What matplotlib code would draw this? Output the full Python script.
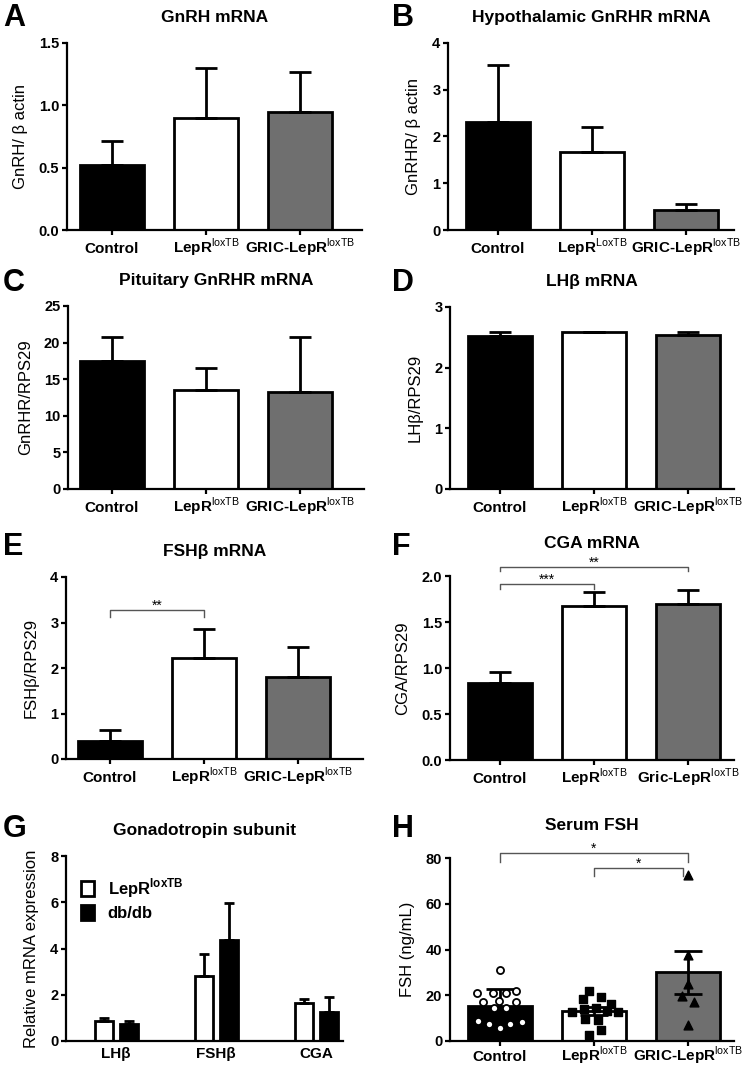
import numpy as np
import matplotlib
matplotlib.use("Agg")
import matplotlib.pyplot as plt

plt.rcParams['font.family'] = ['Liberation Sans', 'DejaVu Sans']
plt.rcParams['mathtext.fontset'] = 'custom'
plt.rcParams['mathtext.rm'] = 'Liberation Sans'
plt.rcParams['mathtext.bf'] = 'Liberation Sans:bold'

W, H = 742, 1066
GRAY = '#6f6f6f'
COLORS = ['black', 'white', GRAY]

SUP = r'$^{\mathrm{loxTB}}$'
groups_std = ['Control', 'LepR' + SUP, 'GRIC-LepR' + SUP]
groups_b = ['Control', r'LepR$^{\mathrm{LoxTB}}$', 'GRIC-LepR' + SUP]
groups_f = ['Control', 'LepR' + SUP, 'Gric-LepR' + SUP]

# panel A
gnrh_mean = [0.52, 0.90, 0.95]
gnrh_err = [0.19, 0.40, 0.32]
# panel B
hgnrhr_mean = [2.30, 1.67, 0.43]
hgnrhr_err = [1.22, 0.53, 0.13]
# panel C
pgnrhr_mean = [17.5, 13.5, 13.2]
pgnrhr_err = [3.2, 3.0, 7.5]
# panel D
lhb_mean = [2.53, 2.58, 2.54]
lhb_err = [0.05, 0.0, 0.04]
# panel E
fshb_mean = [0.40, 2.22, 1.80]
fshb_err = [0.23, 0.63, 0.67]
# panel F
cga_mean = [0.84, 1.67, 1.70]
cga_err = [0.12, 0.16, 0.15]
# panel G
subunits = ['LHβ', 'FSHβ', 'CGA']
g_lepr = [0.85, 2.80, 1.65]
g_lepr_err = [0.15, 0.95, 0.17]
g_dbdb = [0.75, 4.35, 1.25]
g_dbdb_err = [0.10, 1.60, 0.65]
# panel H
fsh_ctrl = [31.0, 21.0, 21.0, 20.9, 21.9, 17.1, 17.4, 17.1, 14.5, 14.5, 8.8, 8.3, 7.3, 7.3, 5.5]
fsh_ctrl_dx = [0.0, -0.24, -0.07, 0.06, 0.17, -0.18, -0.01, 0.17, -0.06, 0.06, -0.23, 0.23, -0.12, 0.11, 0.0]
fsh_lepr = [22.0, 19.4, 18.2, 12.8, 14.0, 14.6, 16.0, 12.8, 9.6, 9.2, 4.8, 2.6, 13.0]
fsh_lepr_dx = [-0.05, 0.07, -0.12, -0.23, -0.11, 0.02, 0.18, 0.25, -0.10, 0.04, 0.07, -0.05, 0.14]
fsh_gric = [72.4, 37.7, 25.1, 19.7, 17.0, 7.0]
fsh_gric_dx = [0.0, 0.0, 0.0, -0.06, 0.06, 0.0]
fsh_mean = [15.5, 13.1, 30.0]
fsh_sem = [7.2, 1.8, 9.5]

fig = plt.figure(figsize=(W / 100, H / 100), dpi=100)


def make_ax(l, r, t, b):
    ax = fig.add_axes([l / W, 1 - b / H, (r - l) / W, (b - t) / H])
    for s in ['top', 'right']:
        ax.spines[s].set_visible(False)
    for s in ['left', 'bottom']:
        ax.spines[s].set_linewidth(1.6)
    ax.tick_params(axis='y', width=1.6, length=3.5, pad=2)
    ax.tick_params(axis='x', width=1.6, length=3.5, pad=13)
    return ax


def fix_xlabels(ax, labels, size=11):
    ax.set_xticklabels(labels, fontsize=size, fontweight='bold')
    for lab in ax.get_xticklabels():
        lab.set_verticalalignment('baseline')


def bar_panel(ax, means, errs, labels, l, r, gap, ylim, yticks, yfmt,
              ylabel, title, letter, letter_x, letter_y, both=False, cap=8, tpad=15):
    spacing = 94.0
    x = np.arange(3)
    ax.set_xlim(-gap / spacing, (r - l - gap) / spacing)
    ax.set_ylim(*ylim)
    ax.bar(x, means, width=0.68, color=COLORS, edgecolor='black', linewidth=2, zorder=2)
    lower = errs if both else [0] * 3
    ax.errorbar(x, means, yerr=[lower, errs], fmt='none', ecolor='black',
                elinewidth=2, capsize=cap, capthick=2, zorder=3, clip_on=False)
    ax.set_xticks(x)
    fix_xlabels(ax, labels)
    ax.set_yticks(yticks)
    ax.set_yticklabels([yfmt.format(v) for v in yticks], fontsize=10.5, fontweight='bold')
    ax.set_ylabel(ylabel, fontsize=12, labelpad=8)
    ax.set_title(title, fontsize=12.5, fontweight='bold', pad=tpad)
    fig.text(letter_x / W, 1 - letter_y / H, letter, fontsize=22, fontweight='bold',
             va='top', ha='left')


def bracket(ax, x1, x2, y, drop, text):
    ax.plot([x1, x1, x2, x2], [y - drop, y, y, y - drop], color='#555555', lw=1,
            clip_on=False, zorder=4)
    ax.text((x1 + x2) / 2, y, text, ha='center', va='baseline', fontsize=10, clip_on=False)


# A
ax = make_ax(67, 362, 43, 230)
bar_panel(ax, gnrh_mean, gnrh_err, groups_std, 67, 362, 45, (0, 1.5), [0, 0.5, 1.0, 1.5],
          '{:.1f}', 'GnRH/ β actin', 'GnRH mRNA', 'A', 3, 3)
# B
ax = make_ax(448, 734, 43, 230)
bar_panel(ax, hgnrhr_mean, hgnrhr_err, groups_b, 448, 734, 50, (0, 4), [0, 1, 2, 3, 4],
          '{:.0f}', 'GnRHR/ β actin', 'Hypothalamic GnRHR mRNA', 'B', 392, 3)
# C
ax = make_ax(68, 364, 306, 489)
bar_panel(ax, pgnrhr_mean, pgnrhr_err, groups_std, 68, 364, 44, (0, 25), [0, 5, 10, 15, 20, 25],
          '{:.0f}', 'GnRHR/RPS29', 'Pituitary GnRHR mRNA', 'C', 3, 268)
# D
ax = make_ax(450, 734, 307, 489)
bar_panel(ax, lhb_mean, lhb_err, groups_std, 450, 734, 50, (0, 3), [0, 1, 2, 3],
          '{:.0f}', 'LHβ/RPS29', 'LHβ mRNA', 'D', 392, 268)
# E
ax = make_ax(66, 363, 577, 759)
bar_panel(ax, fshb_mean, fshb_err, groups_std, 66, 363, 44, (0, 4), [0, 1, 2, 3, 4],
          '{:.0f}', 'FSHβ/RPS29', 'FSHβ mRNA', 'E', 3, 532)
bracket(ax, 0, 1, 3.27, 0.15, '**')
# F
ax = make_ax(450, 734, 576, 760)
bar_panel(ax, cga_mean, cga_err, groups_f, 450, 734, 50, (0, 2.0), [0, 0.5, 1.0, 1.5, 2.0],
          '{:.1f}', 'CGA/RPS29', 'CGA mRNA', 'F', 392, 532, tpad=20)
bracket(ax, 0, 1, 1.91, 0.05, '***')
bracket(ax, 0, 2, 2.10, 0.05, '**')

# G
ax = make_ax(66, 343, 856, 1041)
xg = np.arange(3)
ax.set_xlim(-0.5, 2.27)
ax.set_ylim(0, 8)
ax.bar(xg - 0.125, g_lepr, width=0.18, color='white', edgecolor='black', linewidth=2,
       label='LepR' + r'$^{\mathbf{loxTB}}$', zorder=2)
ax.bar(xg + 0.125, g_dbdb, width=0.18, color='black', edgecolor='black', linewidth=2,
       label='db/db', zorder=2)
ax.errorbar(xg - 0.125, g_lepr, yerr=[[0] * 3, g_lepr_err], fmt='none', ecolor='black',
            elinewidth=2, capsize=3.5, capthick=2, zorder=3)
ax.errorbar(xg + 0.125, g_dbdb, yerr=[[0] * 3, g_dbdb_err], fmt='none', ecolor='black',
            elinewidth=2, capsize=3.5, capthick=2, zorder=3)
ax.set_xticks(xg)
fix_xlabels(ax, subunits)
ax.tick_params(axis='x', length=0, pad=12)
ax.set_yticks([0, 2, 4, 6, 8])
ax.set_yticklabels(['0', '2', '4', '6', '8'], fontsize=10.5, fontweight='bold')
ax.set_ylabel('Relative mRNA expression', fontsize=12, labelpad=8)
ax.set_title('Gonadotropin subunit', fontsize=12.5, fontweight='bold', pad=15)
leg = ax.legend(loc='upper left', bbox_to_anchor=(0.0, 0.97), frameon=False,
                prop={'weight': 'bold', 'size': 12}, handlelength=0.8, handleheight=1.0,
                handletextpad=0.8, labelspacing=0.3)
fig.text(3 / W, 1 - 814 / H, 'G', fontsize=22, fontweight='bold', va='top', ha='left')

# H
ax = make_ax(450, 734, 858, 1041)
bar_panel(ax, fsh_mean, fsh_sem, groups_std, 450, 734, 50, (0, 80), [0, 20, 40, 60, 80],
          '{:.0f}', 'FSH (ng/mL)', 'Serum FSH', 'H', 392, 814, both=True, cap=10, tpad=20)
ax.tick_params(axis='x', pad=11)
ax.scatter(np.array(fsh_ctrl_dx), fsh_ctrl, s=26, marker='o', facecolor='white',
           edgecolor='black', linewidth=1.3, zorder=4, clip_on=False)
ax.scatter(1 + np.array(fsh_lepr_dx), fsh_lepr, s=40, marker='s', color='black', zorder=4,
           clip_on=False)
ax.scatter(2 + np.array(fsh_gric_dx), fsh_gric, s=40, marker='^', color='black', zorder=4,
           clip_on=False)
bracket(ax, 0, 2, 82.2, 3.8, '*')
bracket(ax, 1, 1.95, 75.6, 3.6, '*')

fig.savefig('out.png', dpi=100)
